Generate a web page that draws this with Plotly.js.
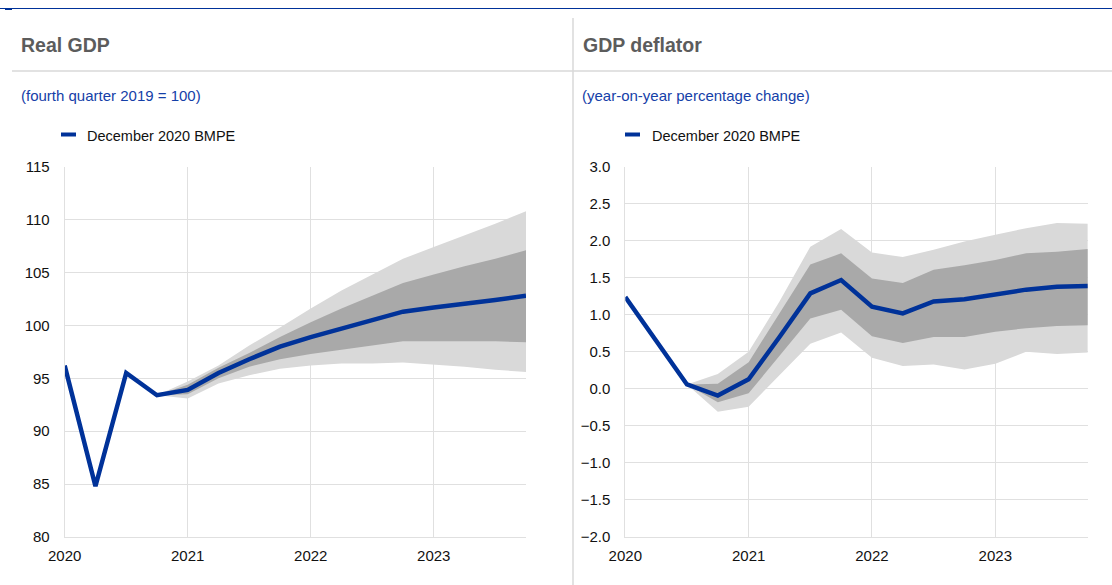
<!DOCTYPE html>
<html><head><meta charset="utf-8">
<script src="https://cdn.plot.ly/plotly-3.0.1.min.js"></script>
<style>html,body{margin:0;padding:0;background:#fff;overflow:hidden}#chart{width:1112px;height:585px}</style>
</head><body><div id="chart"></div>
<script>
// ---- data ----
const quarters = [2020, 2020.25, 2020.5, 2020.75, 2021, 2021.25, 2021.5, 2021.75,
                  2022, 2022.25, 2022.5, 2022.75, 2023, 2023.25, 2023.5, 2023.75];
const yearTicks = [2020, 2021, 2022, 2023];
const yearLabels = ['2020', '2021', '2022', '2023'];
const seriesName = 'December 2020 BMPE';

// Real GDP (fourth quarter 2019 = 100)
const gdpLine = [96.2, 84.8, 95.5, 93.4, 93.9, 95.5, 96.8, 98.0, 98.9, 99.7, 100.45, 101.3, 101.7, 102.0, 102.4, 102.8];
const gdpBandQuarters = quarters.slice(3);
const gdpOuterUpper = [93.4, 94.7, 96.2, 98.1, 99.8, 101.6, 103.3, 104.8, 106.3, 107.4, 108.5, 109.6, 110.8];
const gdpInnerUpper = [93.4, 94.4, 96.0, 97.4, 98.9, 100.3, 101.6, 102.8, 104.0, 104.8, 105.6, 106.3, 107.1];
const gdpInnerLower = [93.4, 93.5, 95.0, 96.1, 96.8, 97.3, 97.7, 98.1, 98.5, 98.5, 98.5, 98.5, 98.4];
const gdpOuterLower = [93.4, 93.1, 94.5, 95.3, 95.9, 96.2, 96.4, 96.4, 96.5, 96.3, 96.1, 95.8, 95.6];

// GDP deflator (year-on-year percentage change)
const defLine = [1.24, 0.66, 0.06, -0.09, 0.13, 0.70, 1.29, 1.47, 1.11, 1.02, 1.18, 1.21, 1.27, 1.34, 1.38, 1.39];
const defBandQuarters = quarters.slice(2);
const defOuterUpper = [0.06, 0.20, 0.50, 1.18, 1.92, 2.16, 1.84, 1.78, 1.88, 1.99, 2.08, 2.17, 2.24, 2.23];
const defInnerUpper = [0.06, 0.07, 0.36, 1.02, 1.68, 1.83, 1.49, 1.43, 1.61, 1.67, 1.74, 1.83, 1.85, 1.89];
const defInnerLower = [0.06, -0.18, -0.06, 0.45, 0.95, 1.07, 0.71, 0.62, 0.70, 0.70, 0.77, 0.82, 0.85, 0.86];
const defOuterLower = [0.06, -0.31, -0.24, 0.18, 0.61, 0.76, 0.42, 0.31, 0.33, 0.26, 0.34, 0.50, 0.47, 0.49];

// ---- styles ----
const BLUE = '#003299';
const LIGHT = '#d9d9d9';
const DARK = '#a9a9a9';
const GRID = '#e0e0e0';
const FONT = 'Liberation Sans, Arial, sans-serif';
const W = 1112, H = 585;
const px = v => v / W;
const py = v => 1 - v / H;

function band(x, lo, hi, color, xa, ya) {
  return [
    {x: x, y: lo, xaxis: xa, yaxis: ya, type: 'scatter', mode: 'lines',
     line: {width: 0, color: color}, showlegend: false, hoverinfo: 'skip'},
    {x: x, y: hi, xaxis: xa, yaxis: ya, type: 'scatter', mode: 'lines', fill: 'tonexty',
     fillcolor: color, line: {width: 0, color: color}, showlegend: false, hoverinfo: 'skip'}
  ];
}
function mainLine(x, y, xa, ya) {
  return {x: x, y: y, xaxis: xa, yaxis: ya, type: 'scatter', mode: 'lines', name: seriesName,
          line: {color: BLUE, width: 4.5}, showlegend: false};
}

const traces = [].concat(
  band(gdpBandQuarters, gdpOuterLower, gdpOuterUpper, LIGHT, 'x', 'y'),
  band(gdpBandQuarters, gdpInnerLower, gdpInnerUpper, DARK, 'x', 'y'),
  [mainLine(quarters, gdpLine, 'x', 'y')],
  band(defBandQuarters, defOuterLower, defOuterUpper, LIGHT, 'x2', 'y2'),
  band(defBandQuarters, defInnerLower, defInnerUpper, DARK, 'x2', 'y2'),
  [mainLine(quarters, defLine, 'x2', 'y2')]
);

function xAxis(domain, anchor) {
  return {domain: domain, anchor: anchor, range: [2020, 2023.75], tickvals: yearTicks, ticktext: yearLabels,
          showgrid: true, gridcolor: GRID, gridwidth: 1, zeroline: false,
          showline: true, linecolor: GRID, linewidth: 1, ticks: '', ticklabelstandoff: 5,
          tickfont: {family: FONT, size: 15, color: '#111'}, fixedrange: true};
}
function yAxis(domain, anchor, range, dtick, fmt) {
  return {domain: domain, anchor: anchor, range: range, dtick: dtick, tick0: range[0], tickformat: fmt,
          showgrid: true, gridcolor: GRID, gridwidth: 1, zeroline: false,
          showline: true, linecolor: GRID, linewidth: 1, ticks: '', ticklabelstandoff: 11,
          tickfont: {family: FONT, size: 15, color: '#111'}, fixedrange: true};
}

const yDom = [py(537), py(166.7)];
const layout = {
  width: W, height: H, margin: {l: 0, r: 0, t: 0, b: 0},
  paper_bgcolor: '#fff', plot_bgcolor: '#fff', showlegend: false,
  xaxis: xAxis([px(64.7), px(526)], 'y'),
  yaxis: yAxis(yDom, 'x', [80, 115], 5, 'd'),
  xaxis2: xAxis([px(625.3), px(1087.8)], 'y2'),
  yaxis2: yAxis(yDom, 'x2', [-2, 3], 0.5, '.1f'),
  shapes: [
    {type: 'line', xref: 'paper', yref: 'paper', x0: 0, x1: 1, y0: py(8.5), y1: py(8.5), line: {color: BLUE, width: 1}},
    {type: 'line', xref: 'paper', yref: 'paper', x0: px(5), x1: px(12), y0: py(9), y1: py(9), line: {color: BLUE, width: 2}},
    {type: 'line', xref: 'paper', yref: 'paper', x0: px(12), x1: 1, y0: py(71), y1: py(71), line: {color: '#d9d9d9', width: 1.5}},
    {type: 'line', xref: 'paper', yref: 'paper', x0: px(573), x1: px(573), y0: py(18), y1: 0, line: {color: '#d9d9d9', width: 1.5}},
    {type: 'line', xref: 'paper', yref: 'paper', x0: px(61), x1: px(76), y0: py(134.5), y1: py(134.5), line: {color: BLUE, width: 4}},
    {type: 'line', xref: 'paper', yref: 'paper', x0: px(625), x1: px(640), y0: py(134.5), y1: py(134.5), line: {color: BLUE, width: 4}}
  ],
  annotations: [
    {text: '<b>Real GDP</b>', x: px(19), y: py(45), xref: 'paper', yref: 'paper', xanchor: 'left', yanchor: 'middle', showarrow: false,
     font: {family: FONT, size: 19.5, color: '#5c5c5c'}},
    {text: '<b>GDP deflator</b>', x: px(581), y: py(45), xref: 'paper', yref: 'paper', xanchor: 'left', yanchor: 'middle', showarrow: false,
     font: {family: FONT, size: 19.5, color: '#5c5c5c'}},
    {text: '(fourth quarter 2019 = 100)', x: px(18.5), y: py(96), xref: 'paper', yref: 'paper', xanchor: 'left', yanchor: 'middle', showarrow: false,
     font: {family: FONT, size: 15, color: '#1540a8'}},
    {text: '(year-on-year percentage change)', x: px(579.5), y: py(96), xref: 'paper', yref: 'paper', xanchor: 'left', yanchor: 'middle', showarrow: false,
     font: {family: FONT, size: 15, color: '#1540a8'}},
    {text: seriesName, x: px(85), y: py(136), xref: 'paper', yref: 'paper', xanchor: 'left', yanchor: 'middle', showarrow: false,
     font: {family: FONT, size: 14.5, color: '#111'}},
    {text: seriesName, x: px(650), y: py(136), xref: 'paper', yref: 'paper', xanchor: 'left', yanchor: 'middle', showarrow: false,
     font: {family: FONT, size: 14.5, color: '#111'}}
  ]
};

Plotly.newPlot('chart', traces, layout, {staticPlot: true, displayModeBar: false});
</script>
</body></html>
